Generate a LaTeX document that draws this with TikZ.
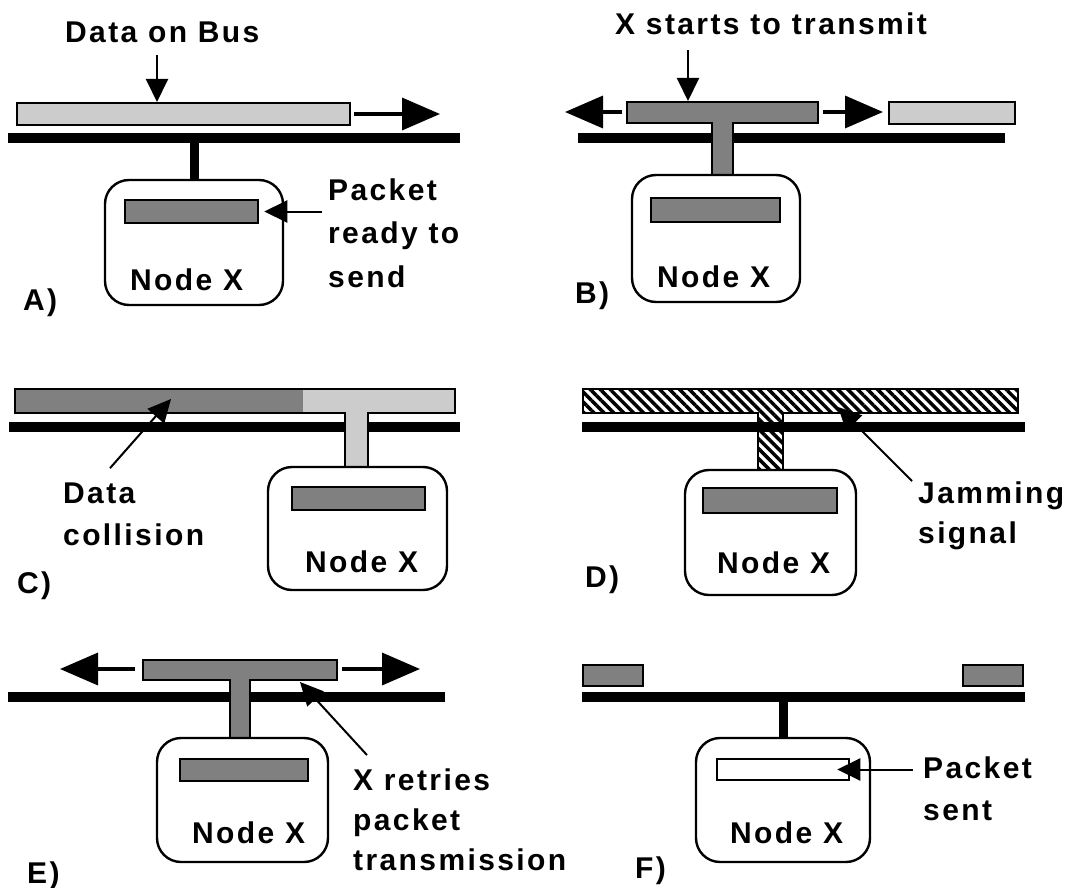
\documentclass[tikz,border=0pt]{standalone}
\usepackage{fontspec}
\newfontfamily\chicagofont[LetterSpace=8]{Liberation Sans}
\usetikzlibrary{arrows.meta,fit,calc,patterns.meta}

\tikzset{
  bus/.style={line width=9.5pt},
  stub/.style={line width=9pt},
  pkt/.style={draw,line width=2.5pt,fill=black!50,inner sep=0pt},
  pale/.style={pkt,fill=black!20},
  sent/.style={pkt,fill=white},
  jam/.style={draw,line width=2.5pt,pattern={Lines[angle=-45,distance=7pt,line width=3.5pt]}},
  station/.style={draw,line width=2.4pt,rounded corners=24pt,inner sep=0pt},
  txt/.style={font=\chicagofont\bfseries\fontsize{30}{42}\selectfont,inner sep=0pt,anchor=base west,align=left},
  ptr/.style={line width=2pt,-{Triangle[length=23pt,width=22pt]}},
  flow/.style={line width=3.5pt,-{Triangle[length=38pt,width=32pt]}}
}

\begin{document}
\begin{tikzpicture}[x=1pt,y=-1pt]
\useasboundingbox (0,0) rectangle (1082,888);
% A)
\draw[bus] (8,138) -- (460,138);
\node[pale,fit={(17,103) (350,125)}] (dataA) {};
\node[station,fit={(105,180) (283,305)}] (nodeA) {};
\node[pkt,fit={(125,200) (258,223)}] (pktA) {};
\draw[stub] (nodeA.north) -- ++(0,-42);
\node[txt] (ttlA) at (65,43) {Data on Bus};
\coordinate (hitA) at (157,102);
\draw[ptr,shorten <=12pt] (hitA |- ttlA.south) -- (hitA);
\coordinate (goA) at (440,114);
\draw[flow] ([xshift=3pt]dataA.east) -- (goA);
\node[txt,font=\chicagofont\bfseries\fontsize{30}{43.5}\selectfont] (lblA) at (328,287) {Packet\\ready to\\send};
\draw[ptr] ($(pktA.east -| lblA.west)+(-6,0)$) -- ([xshift=5pt]pktA.east);
\node[txt] (nameA) at (130,290) {Node X};
\node[txt] (tagA) at (23,310) {A)};
% B)
\draw[bus] (578,138) -- (1005,138);
\draw[pkt] (627,102) -- (818,102) -- (818,123) -- (733,123) -- (733,175) -- (712,175) -- (712,123) -- (627,123) -- cycle;
\coordinate (barBw) at (627,112);
\coordinate (barBe) at (818,112);
\node[pale,fit={(889,102) (1015,124)}] (dataB) {};
\node[station,fit={(632,175) (800,302)}] (nodeB) {};
\node[pkt,fit={(651,198) (780,222)}] (pktB) {};
\node[txt] (ttlB) at (615,35) {X starts to transmit};
\coordinate (hitB) at (688,101);
\draw[ptr,shorten <=15pt] (hitB |- ttlB.south) -- (hitB);
\coordinate (goBl) at (565,112);
\coordinate (goBr) at (883,112);
\draw[flow] ([xshift=-5pt]barBw) -- (goBl);
\draw[flow] ([xshift=5pt]barBe) -- (goBr);
\node[txt] (nameB) at (657,287) {Node X};
\node[txt] (tagB) at (575,303) {B)};
% C)
\draw[bus] (9,427) -- (460,427);
\fill[black!50] (15,389) rectangle (303,413);
\fill[black!20] (303,389) -- (455,389) -- (455,413) -- (368,413) -- (368,467) -- (345,467) -- (345,413) -- (303,413) -- cycle;
\draw[line width=2.5pt] (15,389) -- (455,389) -- (455,413) -- (368,413) -- (368,467) -- (345,467) -- (345,413) -- (15,413) -- cycle;
\node[station,fit={(268,467) (447,590)}] (nodeC) {};
\node[pkt,fit={(292,487) (425,510)}] (pktC) {};
\node[txt] (nameC) at (305,572) {Node X};
\node[txt] (lblC) at (63,545) {Data\\collision};
\coordinate (hitC) at (171,399);
\draw[ptr] ([shift={(47,-14)}]lblC.north west) -- (hitC);
\node[txt] (tagC) at (17,593) {C)};
% D)
\draw[bus] (582,427) -- (1025,427);
\draw[jam] (583,389) -- (1018,389) -- (1018,413) -- (783,413) -- (783,470) -- (758,470) -- (758,413) -- (583,413) -- cycle;
\node[station,fit={(685,470) (856,595)}] (nodeD) {};
\node[pkt,fit={(703,488) (837,513)}] (pktD) {};
\node[txt] (nameD) at (717,573) {Node X};
\node[txt,font=\chicagofont\bfseries\fontsize{30}{40}\selectfont] (lblD) at (918,543) {Jamming\\signal};
\coordinate (hitD) at (838,407);
\draw[ptr] ([xshift=-6pt]lblD.north west) -- (hitD);
\node[txt] (tagD) at (585,587) {D)};
% E)
\draw[bus] (8,697) -- (445,697);
\draw[pkt] (143,660) -- (337,660) -- (337,680) -- (250,680) -- (250,738) -- (230,738) -- (230,680) -- (143,680) -- cycle;
\coordinate (barEw) at (143,669);
\coordinate (barEe) at (337,669);
\coordinate (goEl) at (60,669);
\coordinate (goEr) at (420,669);
\draw[flow] ([xshift=-8pt]barEw) -- (goEl);
\draw[flow] ([xshift=5pt]barEe) -- (goEr);
\node[station,fit={(157,738) (328,862)}] (nodeE) {};
\node[pkt,fit={(180,759) (308,781)}] (pktE) {};
\node[txt] (nameE) at (192,843) {Node X};
\node[txt,font=\chicagofont\bfseries\fontsize{30}{40}\selectfont] (lblE) at (353,870) {X retries\\packet\\transmission};
\coordinate (hitE) at (300,682);
\draw[ptr] ([shift={(14,-13)}]lblE.north west) -- (hitE);
\node[txt] (tagE) at (27,883) {E)};
% F)
\draw[bus] (582,697) -- (1025,697);
\node[pkt,fit={(583,665) (643,686)}] (leftF) {};
\node[pkt,fit={(963,665) (1023,686)}] (rightF) {};
\node[station,fit={(696,738) (870,862)}] (nodeF) {};
\draw[stub] (nodeF.north) -- ++(0,-41);
\node[sent,fit={(717,759) (849,780)}] (pktF) {};
\node[txt] (lblF) at (923,820) {Packet\\sent};
\draw[ptr] ($(pktF.east -| lblF.west)+(-10,0)$) -- ([xshift=-13pt]pktF.east);
\node[txt] (nameF) at (730,843) {Node X};
\node[txt] (tagF) at (635,878) {F)};
\end{tikzpicture}
\end{document}
